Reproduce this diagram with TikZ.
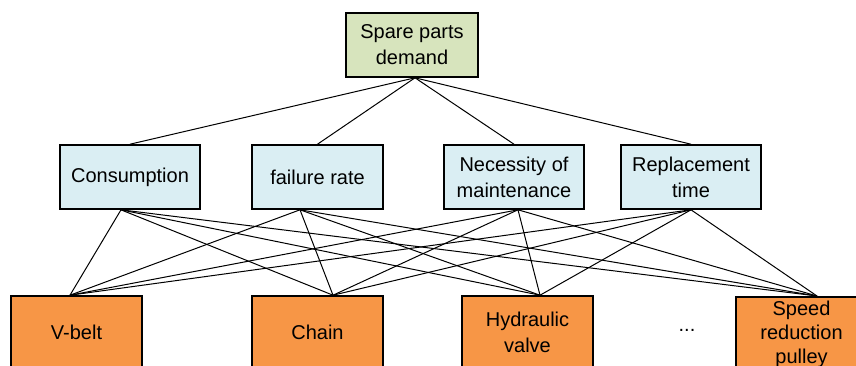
\documentclass[tikz,border=0pt]{standalone}
\usepackage{fontspec}
\setmainfont{Liberation Sans}
\usepackage{tikz}
\usetikzlibrary{positioning}
\definecolor{spgreen}{RGB}{215,228,189}
\definecolor{spblue}{RGB}{218,238,243}
\definecolor{sporange}{RGB}{247,150,70}

\begin{document}
\begin{tikzpicture}[x=0.5pt, y=-0.5pt,
  box/.style={draw=black, line width=0.8pt, align=center, inner sep=2pt,
    font=\fontsize{10}{13}\selectfont},
  goal/.style={box, fill=spgreen, minimum width=66pt, minimum height=32pt},
  factor/.style={box, fill=spblue, minimum width=70pt, minimum height=32pt},
  part/.style={box, fill=sporange, minimum width=65.5pt, minimum height=36pt},
  link/.style={black, line width=0.5pt}]
\useasboundingbox (0,0) rectangle (856,365);
\clip (0,0) rectangle (856,365);
% Goal
\node[goal] (goal) at (412,45) {Spare parts\\demand};
% Criteria
\node[factor] (cons) at (130,177) {Consumption};
\node[factor, minimum width=65.5pt] (fail) at (317.5,177) {failure rate};
\node[factor] (need) at (514,177) {Necessity of\\maintenance};
\node[factor] (repl) at (691,177) {Replacement\\time};
% Alternatives
\node[part] (vbelt) at (76.5,332) {V-belt};
\node[part] (chain) at (317.5,332) {Chain};
\node[part] (valve) at (527.5,332) {Hydraulic\\valve};
\node[part, inner ysep=2pt, anchor=north, font=\fontsize{10}{12}\selectfont]
  (pulley) at (801.5,296) {Speed\\reduction\\pulley};
\node[font=\fontsize{10}{13}\selectfont] (dots) at (687,330) {...};

% Goal to criteria
\foreach \m in {cons, fail, need, repl}
  \draw[link] ([xshift=1.5pt]goal.south) -- (\m.north);
% Criteria to alternatives
\foreach \m/\ms in {cons/-4.5, fail/-8.75, need/2, repl/0}
  \foreach \b/\bs in {vbelt/-3.25, chain/7.75, valve/6.25, pulley/7.75}
    \draw[link] ([xshift=\ms pt]\m.south) -- ([xshift=\bs pt]\b.north);
\end{tikzpicture}
\end{document}
